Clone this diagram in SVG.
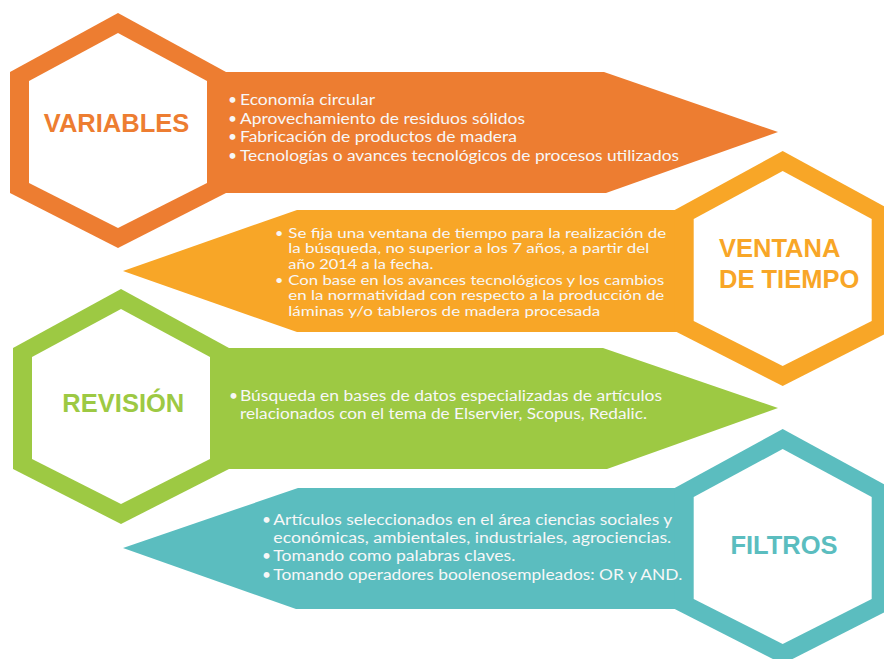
<svg xmlns="http://www.w3.org/2000/svg" xmlns:xlink="http://www.w3.org/1999/xlink" width="884" height="659" viewBox="0 0 884 659">
  <style>
    .body { font-family: Lato, "Open Sans", "Liberation Sans", sans-serif; font-size: 15.5px; fill: #F7F7F7; }
    .tight { font-size: 14.3px; }
    .title { font-family: "Liberation Sans", Arial, sans-serif; font-weight: bold; font-size: 25.5px; }
    .inner { fill: #FFFFFF; }
    .orange { fill: #ED7D31; }
    .yellow { fill: #F8A627; }
    .green { fill: #9DC943; }
    .teal { fill: #5BBDBF; }
  </style>
  <defs>
    <path id="hexOuter" d="M0,0 L108,59 L108,180 L0,235 L-108,180 L-108,59 Z"/>
    <path id="hexInner" d="M0,20 L89,68 L89,170 L0,215 L-89,170 L-89,68 Z"/>
  </defs>
  <rect width="884" height="659" fill="#FFFFFF"/>

  <g id="node-variables">
    <polygon class="orange" points="118,72 604,72 778,132 606,193 118,193"/>
    <use xlink:href="#hexOuter" href="#hexOuter" x="118" y="13" class="orange"/>
    <use xlink:href="#hexInner" href="#hexInner" x="118" y="13" class="inner"/>
    <text class="title orange" x="116.5" y="132.3" text-anchor="middle">VARIABLES</text>
    <g class="body">
      <text x="228" y="105">•</text>
      <text x="240" y="105" textLength="135" lengthAdjust="spacingAndGlyphs">Economía circular</text>
      <text x="228" y="123.5">•</text>
      <text x="240" y="123.5" textLength="285" lengthAdjust="spacingAndGlyphs">Aprovechamiento de residuos sólidos</text>
      <text x="228" y="142.3">•</text>
      <text x="240" y="142.3" textLength="277" lengthAdjust="spacingAndGlyphs">Fabricación de productos de madera</text>
      <text x="228" y="161">•</text>
      <text x="240" y="161" textLength="439" lengthAdjust="spacingAndGlyphs">Tecnologías o avances tecnológicos de procesos utilizados</text>
    </g>
  </g>

  <g id="node-ventana">
    <polygon class="yellow" points="297,210 123,271 297,332 783,332 783,210"/>
    <use xlink:href="#hexOuter" href="#hexOuter" x="782.7" y="151" class="yellow"/>
    <use xlink:href="#hexInner" href="#hexInner" x="782.7" y="151" class="inner"/>
    <text class="title yellow" x="719" y="256.7">VENTANA</text>
    <text class="title yellow" x="719" y="287.7">DE TIEMPO</text>
    <g class="body tight">
      <text x="275" y="237.5">•</text>
      <text x="288.3" y="237.5" textLength="378" lengthAdjust="spacingAndGlyphs">Se fija una ventana de tiempo para la realización de</text>
      <text x="288.3" y="253" textLength="361" lengthAdjust="spacingAndGlyphs">la búsqueda, no superior a los 7 años, a partir del</text>
      <text x="288.3" y="268.5" textLength="145" lengthAdjust="spacingAndGlyphs">año 2014 a la fecha.</text>
      <text x="275" y="284.5">•</text>
      <text x="288.3" y="284.5" textLength="376" lengthAdjust="spacingAndGlyphs">Con base en los avances tecnológicos y los cambios</text>
      <text x="288.3" y="300" textLength="376" lengthAdjust="spacingAndGlyphs">en la normatividad con respecto a la producción de</text>
      <text x="288.3" y="315.5" textLength="312" lengthAdjust="spacingAndGlyphs">láminas y/o tableros de madera procesada</text>
    </g>
  </g>

  <g id="node-revision">
    <polygon class="green" points="121,348 603,348 778,408 607,469 121,469"/>
    <use xlink:href="#hexOuter" href="#hexOuter" x="121" y="289" class="green"/>
    <use xlink:href="#hexInner" href="#hexInner" x="121" y="289" class="inner"/>
    <text class="title green" x="123.3" y="411.7" text-anchor="middle">REVISIÓN</text>
    <g class="body">
      <text x="229" y="400.5">•</text>
      <text x="240" y="400.5" textLength="422" lengthAdjust="spacingAndGlyphs">Búsqueda en bases de datos especializadas de artículos</text>
      <text x="240" y="419" textLength="407" lengthAdjust="spacingAndGlyphs">relacionados con el tema de Elservier, Scopus, Redalic.</text>
    </g>
  </g>

  <g id="node-filtros">
    <polygon class="teal" points="298,488 123,548 296,609 783,609 783,488"/>
    <use xlink:href="#hexOuter" href="#hexOuter" x="782.7" y="429" class="teal"/>
    <use xlink:href="#hexInner" href="#hexInner" x="782.7" y="429" class="inner"/>
    <text class="title teal" x="784" y="554" text-anchor="middle">FILTROS</text>
    <g class="body">
      <text x="262" y="524.5">•</text>
      <text x="273.3" y="524.5" textLength="399" lengthAdjust="spacingAndGlyphs">Artículos seleccionados en el área ciencias sociales y</text>
      <text x="273.3" y="542.5" textLength="398" lengthAdjust="spacingAndGlyphs">económicas, ambientales, industriales, agrociencias.</text>
      <text x="262" y="561">•</text>
      <text x="273.3" y="561" textLength="242" lengthAdjust="spacingAndGlyphs">Tomando como palabras claves.</text>
      <text x="262" y="579.5">•</text>
      <text x="273.3" y="579.5" textLength="409" lengthAdjust="spacingAndGlyphs">Tomando operadores boolenosempleados: OR y AND.</text>
    </g>
  </g>

  <g id="connectors"/>
</svg>
